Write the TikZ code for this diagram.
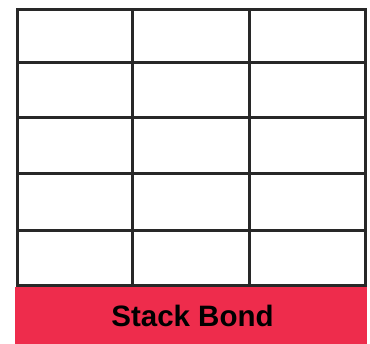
\documentclass[tikz,border=0pt]{standalone}
\usepackage{fontspec}
\setmainfont{Liberation Sans}
\definecolor{bandred}{RGB}{238,44,76}
\definecolor{gridline}{RGB}{40,40,40}
\tikzset{
  gridstroke/.style={draw=gridline, line width=3pt, line cap=rect},
  band/.style={fill=bandred, draw=none},
  bandlabel/.style={font=\fontsize{29.5}{32}\selectfont\bfseries, text=black, anchor=base, inner sep=0pt}
}
\begin{document}
\begin{tikzpicture}[x=1pt,y=-1pt]
\useasboundingbox (0,0) rectangle (370,344);
\fill[white] (0,0) rectangle (370,344);
% grid
\foreach \yy in {10,63,118,173.5,231,286}
  \draw[gridstroke] (17,\yy) -- (365,\yy);
\foreach \xx in {17,132.5,249.5,365}
  \draw[gridstroke] (\xx,10) -- (\xx,287);
% band
\path[band] (15,287) rectangle (367,344);
\node[bandlabel] (label) at (192.5,326.7) {Stack Bond};
\end{tikzpicture}
\end{document}
